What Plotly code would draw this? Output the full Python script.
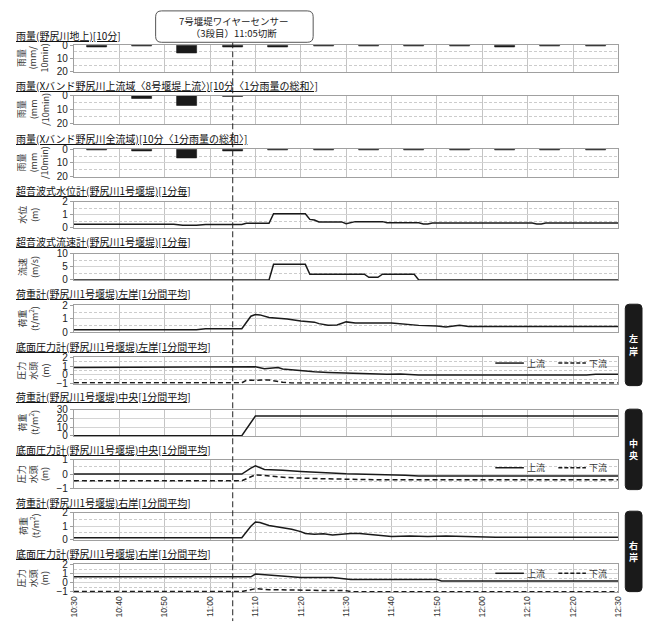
import plotly.graph_objects as go

# ---------------- data ----------------
RAIN_TIMES = ["10:35", "10:45", "10:55", "11:05", "11:15", "11:25",
              "11:35", "11:45", "11:55", "12:05", "12:15", "12:25"]
RAIN_GROUND = [1.5, 0.4, 6.4, 1.3, 1.3, 0.4, 0.4, 0.4, 0.4, 1.5, 0.4, 0.4]
RAIN_XBAND_UPPER = [0.3, 1.8, 7.4, 0.5, 0.1, 0.1, 0.1, 0.1, 0.1, 0.1, 0.1, 0.1]
RAIN_XBAND_ALL = [0.4, 1.6, 6.4, 1.2, 0.4, 0.4, 0.4, 0.4, 0.4, 0.4, 0.4, 0.4]

WL_TIMES = ["10:30", "10:52", "10:54", "10:57", "10:59", "11:07", "11:08", "11:13", "11:14",
            "11:21", "11:22", "11:23", "11:24", "11:29", "11:30", "11:32", "11:38", "11:39",
            "11:46", "11:47", "11:48", "11:49", "12:11", "12:12", "12:13", "12:14", "12:30"]
WL_VALUES = [0.28, 0.28, 0.21, 0.21, 0.27, 0.27, 0.36, 0.36, 1.08,
             1.08, 0.65, 0.6, 0.45, 0.46, 0.33, 0.48, 0.48, 0.40,
             0.40, 0.31, 0.31, 0.37, 0.37, 0.30, 0.31, 0.37, 0.37]

FV_TIMES = ["10:30", "11:13", "11:14", "11:21", "11:22", "11:34", "11:35", "11:37",
            "11:38", "11:45", "11:46", "12:30"]
FV_VALUES = [0, 0, 6.0, 6.0, 2.2, 2.2, 1.0, 1.0, 2.2, 2.2, 0, 0]

LL_TIMES = ["10:30", "10:57", "10:59", "11:07", "11:09", "11:10", "11:11", "11:13", "11:17",
            "11:20", "11:23", "11:24", "11:26", "11:28", "11:30", "11:32", "11:40", "11:46",
            "11:50", "11:52", "11:55", "11:57", "12:30"]
LL_VALUES = [0.2, 0.2, 0.27, 0.27, 1.2, 1.33, 1.3, 1.1, 1.0,
             0.85, 0.76, 0.65, 0.53, 0.55, 0.78, 0.69, 0.69, 0.52,
             0.48, 0.40, 0.52, 0.44, 0.44]

LPU_TIMES = ["10:30", "11:07", "11:10", "11:12", "11:14", "11:15", "11:16", "11:18", "11:20",
             "11:23", "11:26", "11:30", "11:34", "11:39", "11:42", "11:46", "12:23", "12:25", "12:30"]
LPU_VALUES = [0.85, 0.85, 0.93, 0.72, 0.75, 0.85, 0.68, 0.58, 0.45,
              0.36, 0.28, 0.22, 0.13, 0.08, 0.1, 0.0, 0.0, 0.08, 0.08]
LPD_TIMES = ["10:30", "11:07", "11:08", "11:11", "11:13", "11:16", "11:18", "12:30"]
LPD_VALUES = [-0.9, -0.9, -0.62, -0.55, -0.58, -0.85, -0.92, -0.92]

CL_TIMES = ["10:30", "11:07", "11:10", "12:30"]
CL_VALUES = [0.3, 0.3, 23, 23]

CPU_TIMES = ["10:30", "11:07", "11:09", "11:10", "11:12", "11:14", "11:16", "11:20",
             "11:24", "11:30", "11:43", "11:46", "12:30"]
CPU_VALUES = [0, 0, 0.42, 0.58, 0.32, 0.27, 0.27, 0.18, 0.1, 0.02, -0.08, -0.13, -0.13]
CPD_TIMES = ["10:30", "11:07", "11:10", "11:13", "11:17", "11:22", "11:24", "11:30", "11:38", "12:30"]
CPD_VALUES = [-0.47, -0.47, -0.05, -0.15, -0.24, -0.3, -0.32, -0.36, -0.4, -0.4]

RL_TIMES = ["10:30", "11:07", "11:09", "11:10", "11:11", "11:13", "11:16", "11:18", "11:20",
            "11:21", "11:23", "11:25", "11:27", "11:31", "11:33", "11:37", "11:40", "11:44",
            "11:48", "11:52", "11:57", "12:00", "12:03", "12:30"]
RL_VALUES = [0.15, 0.15, 1.0, 1.32, 1.28, 1.05, 0.88, 0.78, 0.6,
             0.46, 0.4, 0.44, 0.35, 0.46, 0.45, 0.36, 0.24, 0.27,
             0.24, 0.28, 0.24, 0.26, 0.18, 0.18]

RPU_TIMES = ["10:30", "11:07", "11:08", "11:09", "11:10", "11:13", "11:17", "11:20",
             "11:27", "11:29", "11:31", "11:50", "11:51", "12:30"]
RPU_VALUES = [0.67, 0.67, 0.72, 0.65, 0.95, 0.85, 0.7, 0.58, 0.57, 0.5, 0.35, 0.35, 0.2, 0.2]
RPD_TIMES = ["10:30", "11:07", "11:10", "11:13", "11:26", "11:30", "11:31", "12:30"]
RPD_VALUES = [-0.96, -0.96, -0.65, -0.75, -0.85, -0.86, -0.97, -0.97]

X_TICKS = ["10:30", "10:40", "10:50", "11:00", "11:10", "11:20",
           "11:30", "11:40", "11:50", "12:00", "12:10", "12:20", "12:30"]

TITLES = [
    "雨量(野尻川地上)[10分]",
    "雨量(Xバンド野尻川上流域〈8号堰堤上流〉)[10分〈1分雨量の総和〉]",
    "雨量(Xバンド野尻川全流域)[10分〈1分雨量の総和〉]",
    "超音波式水位計(野尻川1号堰堤)[1分毎]",
    "超音波式流速計(野尻川1号堰堤)[1分毎]",
    "荷重計(野尻川1号堰堤)左岸[1分間平均]",
    "底面圧力計(野尻川1号堰堤)左岸[1分間平均]",
    "荷重計(野尻川1号堰堤)中央[1分間平均]",
    "底面圧力計(野尻川1号堰堤)中央[1分間平均]",
    "荷重計(野尻川1号堰堤)右岸[1分間平均]",
    "底面圧力計(野尻川1号堰堤)右岸[1分間平均]",
]
YTITLES = [
    "雨量<br>(mm/<br>10min)",
    "雨量<br>(mm<br>/10min)",
    "雨量<br>(mm<br>/10min)",
    "水位<br>(m)",
    "流速<br>(m/s)",
    "荷重<br>(t/m<sup>2</sup>)",
    "圧力<br>水頭<br>(m)",
    "荷重<br>(t/m<sup>2</sup>)",
    "圧力<br>水頭<br>(m)",
    "荷重<br>(t/m<sup>2</sup>)",
    "圧力<br>水頭<br>(m)",
]
SIDE_LABELS = [("左", "岸"), ("中", "央"), ("右", "岸")]
LEGEND_NAMES = ["上流", "下流"]
EVENT_TIME = "11:05"
EVENT_TEXT = "7号堰堤ワイヤーセンサー<br>（3段目）11:05切断"

# ---------------- layout geometry (pixels) ----------------
W, H = 648, 630
XL, XR = 70, 623
PANELS = [(40, 67), (91.5, 120), (146, 174), (199.3, 226.3), (252.7, 279.3),
          (305.3, 332.7), (358.3, 385), (411.7, 438.3), (462.7, 491.7),
          (516.7, 544), (569.3, 597.3)]
TITLE_Y = [31.7, 82.7, 136.3, 189.3, 241.7, 295, 349, 400, 453.3, 507.3, 560]
# (range, dtick, minor dtick)
YAX = [([20, 0], 10, 5), ([20, 0], 10, 5), ([20, 0], 10, 5),
       ([0, 2], 1, 0.5), ([0, 10], 5, 2.5), ([0, 2], 1, 0.5),
       ([-1, 2], 1, 0.5), ([0, 30], 10, None), ([-1, 1], 1, 0.5),
       ([0, 2], 1, 0.5), ([-1, 2], 1, 0.5)]


def T(hhmm):
    return "2000-01-01 " + hhmm + ":00"


def px(x):
    return x / W


def py(y):
    return 1 - y / H


def rrect(x0, y0, x1, y1, r):
    pts = [
        f"M{px(x0 + r)},{py(y0)}", f"L{px(x1 - r)},{py(y0)}",
        f"Q{px(x1)},{py(y0)} {px(x1)},{py(y0 + r)}", f"L{px(x1)},{py(y1 - r)}",
        f"Q{px(x1)},{py(y1)} {px(x1 - r)},{py(y1)}", f"L{px(x0 + r)},{py(y1)}",
        f"Q{px(x0)},{py(y1)} {px(x0)},{py(y1 - r)}", f"L{px(x0)},{py(y0 + r)}",
        f"Q{px(x0)},{py(y0)} {px(x0 + r)},{py(y0)}", "Z",
    ]
    return " ".join(pts)


fig = go.Figure()
BLACK = "#1a1a1a"


def ax(i):
    return ("x" if i == 1 else f"x{i}"), ("y" if i == 1 else f"y{i}")


def add_bar(i, vals):
    xa, ya = ax(i)
    fig.add_trace(go.Bar(x=[T(t) for t in RAIN_TIMES], y=vals, width=4.4 * 60000,
                         marker=dict(color=BLACK, line=dict(color=BLACK, width=0.6)),
                         xaxis=xa, yaxis=ya, showlegend=False, hoverinfo="skip"))


def add_line(i, times, vals, dash="solid"):
    xa, ya = ax(i)
    fig.add_trace(go.Scatter(x=[T(t) for t in times], y=vals, mode="lines",
                             line=dict(color=BLACK, width=1.5, dash=dash),
                             xaxis=xa, yaxis=ya, showlegend=False, hoverinfo="skip"))


add_bar(1, RAIN_GROUND)
add_bar(2, RAIN_XBAND_UPPER)
add_bar(3, RAIN_XBAND_ALL)
add_line(4, WL_TIMES, WL_VALUES)
add_line(5, FV_TIMES, FV_VALUES)
add_line(6, LL_TIMES, LL_VALUES)
add_line(7, LPU_TIMES, LPU_VALUES)
add_line(7, LPD_TIMES, LPD_VALUES, "5px,3px")
add_line(8, CL_TIMES, CL_VALUES)
add_line(9, CPU_TIMES, CPU_VALUES)
add_line(9, CPD_TIMES, CPD_VALUES, "5px,3px")
add_line(10, RL_TIMES, RL_VALUES)
add_line(11, RPU_TIMES, RPU_VALUES)
add_line(11, RPD_TIMES, RPD_VALUES, "5px,3px")

layout = dict(
    width=W, height=H, margin=dict(l=0, r=0, t=0, b=0),
    paper_bgcolor="white", plot_bgcolor="white",
    font=dict(family="Liberation Sans, Noto Sans CJK JP", color="#222"),
    bargap=0,
)

annotations = []
shapes = []
JP = "Noto Sans CJK JP"

for k in range(11):
    i = k + 1
    xa, ya = ax(i)
    top, bot = PANELS[k]
    rng, dt, mdt = YAX[k]
    xkey = "xaxis" if i == 1 else f"xaxis{i}"
    ykey = "yaxis" if i == 1 else f"yaxis{i}"
    layout[xkey] = dict(
        domain=[px(XL), px(XR)], anchor=ya, type="date",
        range=[T(X_TICKS[0]), T(X_TICKS[-1])],
        tickvals=[T(t) for t in X_TICKS], ticktext=X_TICKS,
        showgrid=True, gridcolor="#c4c4c4", gridwidth=1,
        showline=True, mirror=True, linecolor="#a0a0a0", linewidth=1,
        showticklabels=(i == 11), tickangle=-90, ticks="",
        tickfont=dict(size=8.5, color="#333"), zeroline=False,
    )
    yd = dict(
        domain=[py(bot), py(top)], anchor=xa, range=rng,
        tick0=0, dtick=dt, showgrid=True, gridcolor="#d4d4d4", gridwidth=1,
        showline=True, mirror=True, linecolor="#a0a0a0", linewidth=1,
        ticks="outside", ticklen=3, tickcolor="#a0a0a0",
        tickfont=dict(size=10, color="#222"), zeroline=False,
    )
    if mdt is not None:
        yd["minor"] = dict(tick0=0, dtick=mdt, showgrid=True, gridcolor="#cccccc",
                           griddash="3px,2px", gridwidth=1, ticks="")
    layout[ykey] = yd

    annotations.append(dict(
        text="<u>" + TITLES[k] + "</u>", xref="paper", yref="paper",
        x=px(9), y=py(TITLE_Y[k] - 1.5), xanchor="left", yanchor="middle",
        showarrow=False, font=dict(family=JP, size=10, color="#111")))
    ncol = YTITLES[k].count("<br>") + 1
    cx = 28.5 if ncol == 3 else 24.5
    annotations.append(dict(
        text=YTITLES[k], xref="paper", yref="paper", textangle=-90,
        x=px(cx), y=py((top + bot) / 2), xanchor="center", yanchor="middle",
        showarrow=False, font=dict(family=JP, size=9, color="#333")))

# legends inside pressure panels
for ly in [364, 470.7, 578.3]:
    shapes.append(dict(type="line", xref="paper", yref="paper",
                       x0=px(498), x1=px(527), y0=py(ly), y1=py(ly),
                       line=dict(color=BLACK, width=1.5)))
    shapes.append(dict(type="line", xref="paper", yref="paper",
                       x0=px(562), x1=px(590), y0=py(ly), y1=py(ly),
                       line=dict(color=BLACK, width=1.5, dash="4px,2px")))
    annotations.append(dict(text=LEGEND_NAMES[0], xref="paper", yref="paper",
                            x=px(528), y=py(ly), xanchor="left", yanchor="middle",
                            showarrow=False, font=dict(family=JP, size=9, color="#333")))
    annotations.append(dict(text=LEGEND_NAMES[1], xref="paper", yref="paper",
                            x=px(591), y=py(ly), xanchor="left", yanchor="middle",
                            showarrow=False, font=dict(family=JP, size=9, color="#333")))

# side labels (two stacked characters in a black rounded box)
for (y0, y1), (c1, c2) in zip([(304, 387), (411, 493), (515, 597)], SIDE_LABELS):
    shapes.append(dict(type="path", xref="paper", yref="paper",
                       path=rrect(630, y0, 647, y1, 4),
                       fillcolor=BLACK, line=dict(color=BLACK, width=1)))
    cy = (y0 + y1) / 2
    for ch, dy in ((c1, -6.5), (c2, 6.5)):
        annotations.append(dict(text="<b>" + ch + "</b>", xref="paper", yref="paper",
                                x=px(638.5), y=py(cy + dy), xanchor="center",
                                yanchor="middle", showarrow=False,
                                font=dict(family=JP, size=9, color="white")))

# event box and dashed line
shapes.append(dict(type="line", xref="x", yref="paper",
                   x0=T(EVENT_TIME), x1=T(EVENT_TIME), y0=py(37), y1=py(627),
                   line=dict(color="#222", width=1, dash="6px,3px")))
shapes.append(dict(type="path", xref="paper", yref="paper",
                   path=rrect(153, 5, 313, 37, 6),
                   fillcolor="white", line=dict(color="#555", width=1)))
annotations.append(dict(text=EVENT_TEXT, xref="paper", yref="paper",
                        x=px(233), y=py(21.5), xanchor="center", yanchor="middle",
                        showarrow=False, align="center",
                        font=dict(family=JP, size=9.5, color="#222")))

layout["annotations"] = annotations
layout["shapes"] = shapes
fig.update_layout(**layout)
fig.write_html("out.html", config={"displayModeBar": False},
               post_script="document.body.style.margin='0';document.body.style.padding='0';")
